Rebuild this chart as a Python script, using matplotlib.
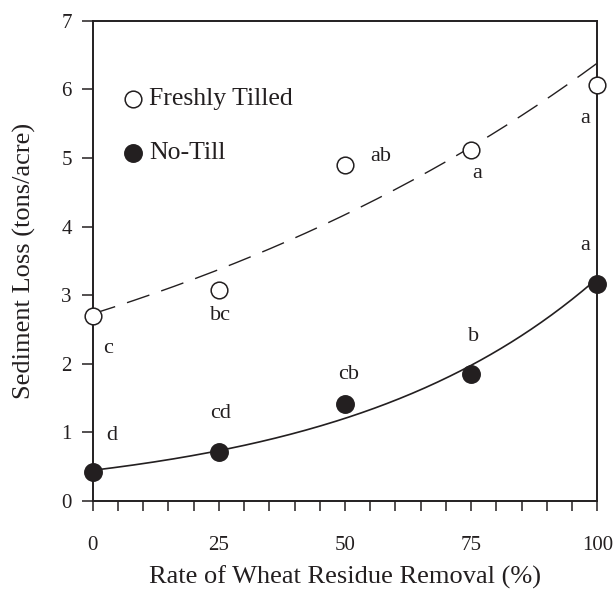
import numpy as np
import matplotlib
matplotlib.use("Agg")
import matplotlib.pyplot as plt

plt.rcParams['font.family'] = ['Liberation Serif', 'DejaVu Serif']

# data
removal = [0, 25, 50, 75, 100]
tilled = [2.70, 3.08, 4.90, 5.12, 6.06]
notill = [0.43, 0.71, 1.42, 1.85, 3.17]
tilled_letters = ['c', 'bc', 'ab', 'a', 'a']
notill_letters = ['d', 'cd', 'cb', 'b', 'a']
# label positions (x, y) in data units
tilled_lab_xy = [(3.0, 2.23), (25.4, 2.71), (57.0, 5.02), (76.2, 4.78), (97.6, 5.58)]
notill_lab_xy = [(3.8, 0.96), (25.3, 1.28), (50.8, 1.85), (75.4, 2.40), (97.6, 3.72)]
xtick_vals = list(range(0, 101, 5))
xtick_labels = ['0', '25', '50', '75', '100']
ytick_vals = list(range(0, 8))

ink = '#231f20'

fig = plt.figure(figsize=(6.15, 5.93), dpi=100)
ax = fig.add_axes([0.1507, 0.1551, 0.8205, 0.8100])

# exponential trend lines fitted to the points
xs = np.linspace(0, 100, 200)
bt = np.polyfit(removal, np.log(tilled), 1)
bn = np.polyfit(removal, np.log(notill), 1)
ax.plot(xs, np.exp(np.polyval(bt, xs)), color=ink, lw=1.0, dashes=(17, 9))
ax.plot(xs, np.exp(np.polyval(bn, xs)), color=ink, lw=1.2)

ax.plot(removal, tilled, 'o', ms=12, mfc='white', mec=ink, mew=1.1, clip_on=False, zorder=5)
ax.plot(removal, notill, 'o', ms=12.5, mfc=ink, mec=ink, mew=1.1, clip_on=False, zorder=5)

for (x, y), t in zip(tilled_lab_xy, tilled_letters):
    ax.text(x, y, t, fontsize=16, ha='center', va='center', color=ink)
for (x, y), t in zip(notill_lab_xy, notill_letters):
    ax.text(x, y, t, fontsize=16, ha='center', va='center', color=ink)

# legend drawn by hand
ax.plot([0.0805], [0.837], 'o', ms=12, mfc='white', mec=ink, mew=1.1, transform=ax.transAxes)
ax.plot([0.0805], [0.724], 'o', ms=12.5, mfc=ink, mec=ink, mew=1.1, transform=ax.transAxes)
ax.text(0.112, 0.837, 'Freshly Tilled', fontsize=18.5, va='center', ha='left', transform=ax.transAxes, color=ink)
ax.text(0.112, 0.724, 'No-Till', fontsize=18.5, va='center', ha='left', transform=ax.transAxes, color=ink)

ax.set_xlim(0, 100)
ax.set_ylim(0, 7)
ax.set_xticks(xtick_vals)
ax.set_xticklabels([str(v) if str(v) in xtick_labels else '' for v in xtick_vals])
ax.set_yticks(ytick_vals)
ax.tick_params(axis='x', direction='out', length=7, width=1.1, pad=18, labelsize=15, colors=ink)
ax.tick_params(axis='y', direction='out', length=8, width=1.1, pad=7, labelsize=15, colors=ink)
for s in ax.spines.values():
    s.set_linewidth(1.4)
    s.set_color(ink)

ax.set_xlabel('Rate of Wheat Residue Removal (%)', fontsize=19, labelpad=8, color=ink)
ax.set_ylabel('Sediment Loss (tons/acre)', fontsize=19, labelpad=18, color=ink)

fig.savefig('out.png', dpi=100)
